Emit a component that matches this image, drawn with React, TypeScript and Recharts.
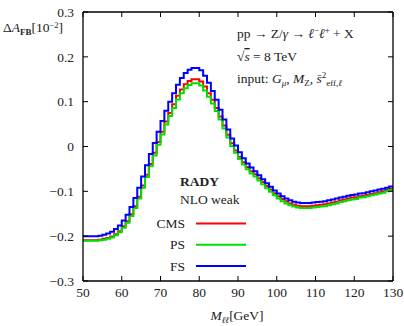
import React from 'react';
import { LineChart, Line, XAxis, YAxis } from 'recharts';

const binEdges = [
  50, 51, 52, 53, 54, 55, 56, 57, 58, 59,
  60, 61, 62, 63, 64, 65, 66, 67, 68, 69,
  70, 71, 72, 73, 74, 75, 76, 77, 78, 79,
  80, 81, 82, 83, 84, 85, 86, 87, 88, 89,
  90, 91, 92, 93, 94, 95, 96, 97, 98, 99,
  100, 101, 102, 103, 104, 105, 106, 107, 108, 109,
  110, 111, 112, 113, 114, 115, 116, 117, 118, 119,
  120, 121, 122, 123, 124, 125, 126, 127, 128, 129,
];
const lastEdge = 130;

const cmsValues = [
  -0.209, -0.209, -0.209, -0.209, -0.208, -0.206, -0.204, -0.201, -0.196, -0.189,
  -0.178, -0.167, -0.151, -0.133, -0.112, -0.087, -0.063, -0.039, -0.014, 0.010,
  0.033, 0.056, 0.075, 0.094, 0.113, 0.127, 0.139, 0.146, 0.150, 0.150,
  0.145, 0.134, 0.119, 0.104, 0.086, 0.067, 0.047, 0.026, 0.007, -0.009,
  -0.023, -0.035, -0.046, -0.055, -0.062, -0.071, -0.079, -0.088, -0.096, -0.104,
  -0.111, -0.117, -0.122, -0.127, -0.130, -0.132, -0.133, -0.133, -0.133, -0.132,
  -0.131, -0.130, -0.129, -0.127, -0.125, -0.123, -0.120, -0.118, -0.116, -0.114,
  -0.113, -0.111, -0.110, -0.108, -0.106, -0.104, -0.102, -0.100, -0.097, -0.094,
];

const psValues = [
  -0.210, -0.210, -0.210, -0.210, -0.209, -0.208, -0.206, -0.203, -0.198, -0.191,
  -0.181, -0.170, -0.155, -0.137, -0.116, -0.092, -0.068, -0.044, -0.020, 0.004,
  0.027, 0.049, 0.068, 0.086, 0.105, 0.119, 0.130, 0.137, 0.141, 0.141,
  0.136, 0.125, 0.111, 0.096, 0.079, 0.060, 0.040, 0.020, 0.001, -0.014,
  -0.028, -0.040, -0.051, -0.060, -0.067, -0.076, -0.084, -0.093, -0.101, -0.109,
  -0.116, -0.122, -0.127, -0.131, -0.134, -0.136, -0.137, -0.137, -0.137, -0.136,
  -0.135, -0.134, -0.133, -0.131, -0.129, -0.127, -0.124, -0.122, -0.120, -0.118,
  -0.117, -0.114, -0.113, -0.111, -0.109, -0.107, -0.105, -0.103, -0.100, -0.097,
];

const fsValues = [
  -0.200, -0.200, -0.200, -0.200, -0.199, -0.197, -0.194, -0.190, -0.184, -0.176,
  -0.165, -0.152, -0.135, -0.115, -0.092, -0.067, -0.042, -0.017, 0.008, 0.033,
  0.057, 0.080, 0.100, 0.119, 0.138, 0.153, 0.164, 0.171, 0.175, 0.175,
  0.170, 0.158, 0.142, 0.124, 0.104, 0.082, 0.060, 0.038, 0.018, 0.002,
  -0.013, -0.026, -0.038, -0.047, -0.055, -0.064, -0.073, -0.082, -0.090, -0.098,
  -0.105, -0.111, -0.116, -0.120, -0.123, -0.125, -0.126, -0.126, -0.126, -0.125,
  -0.124, -0.123, -0.122, -0.120, -0.118, -0.116, -0.114, -0.112, -0.110, -0.108,
  -0.107, -0.105, -0.104, -0.102, -0.100, -0.098, -0.096, -0.094, -0.092, -0.089,
];

const xTicks = [50, 60, 70, 80, 90, 100, 110, 120, 130];
const yTicks = [-0.3, -0.2, -0.1, 0, 0.1, 0.2, 0.3];

const series = [
  { key: 'cms', name: 'CMS', color: '#ff0000', values: cmsValues },
  { key: 'ps', name: 'PS', color: '#00e000', values: psValues },
  { key: 'fs', name: 'FS', color: '#0000ff', values: fsValues },
];

// step-after rows: each bin's left edge, plus a closing row at the last edge
const data = [...binEdges, lastEdge].map((m, i) => {
  const j = Math.min(i, binEdges.length - 1);
  const row: Record<string, number> = { m };
  series.forEach((s) => {
    row[s.key] = s.values[j];
  });
  return row;
});

const FONT = '"Liberation Serif", "DejaVu Serif", serif';
const TXT = '#222';

const fmtY = (v: number) => {
  if (Math.abs(v) < 1e-9) return '0';
  return (v < 0 ? '\u2212' : '') + Math.abs(v).toFixed(1);
};

const axisLine = { stroke: '#000', strokeWidth: 1.3 };
const tickLine = { stroke: '#000', strokeWidth: 1 };
const tickStyle = { fontFamily: FONT, fontSize: 13.5, fill: TXT };

export default function App() {
  return (
    <div style={{ position: 'absolute', left: 0, top: 0, width: 404, height: 326, background: '#fff' }}>
      <LineChart
        width={404}
        height={326}
        data={data}
        margin={{ top: 0, right: 0, bottom: 0, left: 0 }}
      >
        <XAxis
          xAxisId="bottom"
          dataKey="m"
          type="number"
          domain={[50, 130]}
          ticks={xTicks}
          orientation="bottom"
          height={45}
          tickSize={-5}
          tickMargin={11}
          axisLine={axisLine}
          tickLine={tickLine}
          tick={tickStyle}
          interval={0}
        />
        <XAxis
          xAxisId="top"
          dataKey="m"
          type="number"
          domain={[50, 130]}
          ticks={xTicks}
          orientation="top"
          height={12}
          tickSize={-5}
          axisLine={axisLine}
          tickLine={tickLine}
          tickFormatter={() => ''}
          interval={0}
        />
        <YAxis
          yAxisId="left"
          type="number"
          domain={[-0.3, 0.3]}
          ticks={yTicks}
          orientation="left"
          width={83}
          tickSize={-5}
          tickMargin={14}
          axisLine={axisLine}
          tickLine={tickLine}
          tick={tickStyle}
          tickFormatter={fmtY}
          interval={0}
        />
        <YAxis
          yAxisId="right"
          type="number"
          domain={[-0.3, 0.3]}
          ticks={yTicks}
          orientation="right"
          width={11}
          tickSize={-5}
          axisLine={axisLine}
          tickLine={tickLine}
          tickFormatter={() => ''}
          interval={0}
        />
        {series.map((s, i) => (
          <Line
            key={s.key}
            dataKey={s.key}
            name={s.name}
            xAxisId={i === series.length - 1 ? 'top' : 'bottom'}
            yAxisId={i === series.length - 1 ? 'right' : 'left'}
            type="stepAfter"
            stroke={s.color}
            strokeWidth={2}
            dot={false}
            activeDot={false}
            isAnimationActive={false}
          />
        ))}
      </LineChart>
      <svg
        width={404}
        height={326}
        style={{ position: 'absolute', left: 0, top: 0, pointerEvents: 'none' }}
        fontFamily={FONT}
        fill={TXT}
      >
        {/* y axis label */}
        <text x={3} y={32} fontSize={13.5}>
          <tspan>Δ</tspan>
          <tspan fontStyle="italic">A</tspan>
          <tspan fontSize={9} fontWeight="bold" dy={3}>FB</tspan>
          <tspan dy={-3}>[10</tspan>
          <tspan fontSize={8.5} dy={-4.5}>−2</tspan>
          <tspan dy={4.5}>]</tspan>
        </text>
        {/* x axis label */}
        <text x={237} y={320} fontSize={13.5} textAnchor="middle">
          <tspan fontStyle="italic">M</tspan>
          <tspan fontStyle="italic" fontSize={9} dy={3}>ℓℓ</tspan>
          <tspan dy={-3}>[GeV]</tspan>
        </text>
        {/* process annotation */}
        <text x={237} y={38} fontSize={13.5}>
          <tspan>pp → Z/</tspan>
          <tspan fontStyle="italic">γ</tspan>
          <tspan> → </tspan>
          <tspan fontStyle="italic">ℓ</tspan>
          <tspan fontSize={9} dy={-5}>−</tspan>
          <tspan fontStyle="italic" dy={5}>ℓ</tspan>
          <tspan fontSize={9} dy={-5}>+</tspan>
          <tspan dy={5}> + X</tspan>
        </text>
        <text x={237} y={61} fontSize={13.5}>
          <tspan>√</tspan>
          <tspan fontStyle="italic" textDecoration="overline">s</tspan>
          <tspan> = 8 TeV</tspan>
        </text>
        <text x={237} y={83} fontSize={13.5}>
          <tspan>input: </tspan>
          <tspan fontStyle="italic">G</tspan>
          <tspan fontStyle="italic" fontSize={9} dy={3}>μ</tspan>
          <tspan dy={-3}>, </tspan>
          <tspan fontStyle="italic">M</tspan>
          <tspan fontSize={9} dy={3}>Z</tspan>
          <tspan dy={-3}>, </tspan>
          <tspan fontStyle="italic">s̄</tspan>
          <tspan fontSize={9} dy={-5}>2</tspan>
          <tspan fontSize={9} dy={8}>eff,</tspan>
          <tspan fontSize={9} fontStyle="italic">ℓ</tspan>
        </text>
        {/* legend */}
        <text x={180} y={186} fontSize={13.5} fontWeight="bold">RADY</text>
        <text x={180} y={204} fontSize={13.5}>NLO weak</text>
        {series.map((s, i) => {
          const cy = 223.5 + i * 21.3;
          return (
            <g key={s.key}>
              <text x={185} y={cy + 4.5} fontSize={13.5} textAnchor="end">{s.name}</text>
              <line x1={196} x2={246} y1={cy} y2={cy} stroke={s.color} strokeWidth={2} />
            </g>
          );
        })}
      </svg>
    </div>
  );
}
